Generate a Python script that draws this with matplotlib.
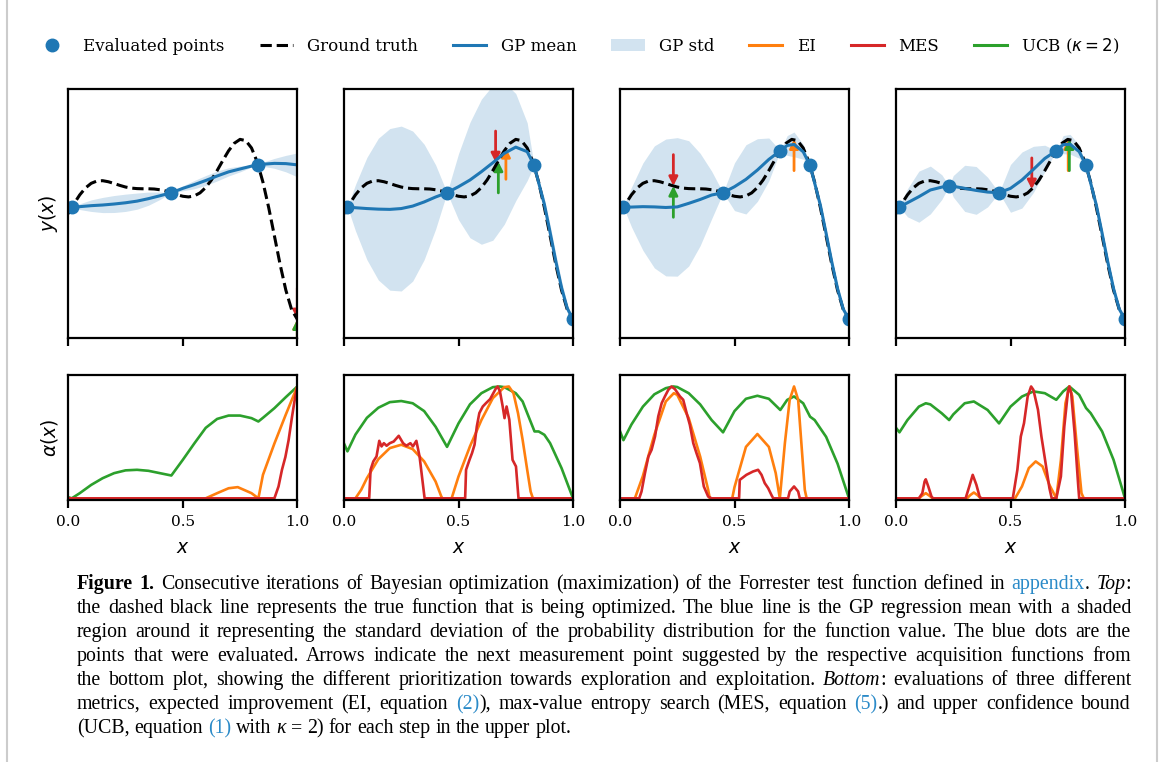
import numpy as np
import matplotlib.pyplot as plt
from matplotlib.lines import Line2D
from matplotlib.patches import Patch, FancyArrowPatch

plt.rcParams['font.family'] = 'DejaVu Serif'
plt.rcParams['mathtext.fontset'] = 'dejavusans'

# ground truth (negated Forrester function), sampled every 0.025
truth_x = np.linspace(0, 1, 41)
truth_y = [-3.03, -1.81, -0.74, 0.10, 0.66, 0.94, 0.98, 0.85, 0.64, 0.41, 0.21,
           0.08, 0.02, 0.00, -0.00, -0.03, -0.12, -0.27, -0.48, -0.72, -0.91,
           -0.99, -0.87, -0.50, 0.15, 1.07, 2.21, 3.44, 4.61, 5.52, 5.99,
           5.84, 4.95, 3.25, 0.80, -2.27, -5.71, -9.19, -12.30, -14.65, -15.83]

# evaluated points per iteration
pts_x = [[0.015, 0.45, 0.83],
         [0.015, 0.45, 0.83, 1.0],
         [0.015, 0.45, 0.70, 0.83, 1.0],
         [0.015, 0.232, 0.45, 0.70, 0.83, 1.0]]
pts_y = [[-2.2, -0.48, 2.85],
         [-2.2, -0.48, 2.85, -15.83],
         [-2.2, -0.48, 4.61, 2.85, -15.83],
         [-2.2, 0.35, -0.48, 4.61, 2.85, -15.83]]

# GP posterior mean / std per iteration
gp_x = [[0, 0.015, 0.05, 0.1, 0.15, 0.2, 0.25, 0.3, 0.35, 0.4, 0.45, 0.5, 0.55,
         0.6, 0.65, 0.7, 0.75, 0.8, 0.83, 0.85, 0.9, 0.95, 1.0],
        [0, 0.015, 0.05, 0.1, 0.15, 0.2, 0.25, 0.3, 0.35, 0.4, 0.45, 0.5, 0.55,
         0.6, 0.65, 0.7, 0.75, 0.8, 0.83, 0.875, 0.9, 0.925, 0.95, 0.975, 1.0],
        [0, 0.015, 0.05, 0.1, 0.15, 0.2, 0.25, 0.3, 0.35, 0.4, 0.45, 0.5, 0.55,
         0.6, 0.65, 0.7, 0.73, 0.76, 0.8, 0.83, 0.875, 0.9, 0.925, 0.95, 0.975, 1.0],
        [0, 0.015, 0.05, 0.1, 0.15, 0.2, 0.232, 0.25, 0.3, 0.35, 0.4, 0.45, 0.5,
         0.55, 0.6, 0.65, 0.7, 0.73, 0.76, 0.8, 0.83, 0.875, 0.9, 0.925, 0.95, 0.975, 1.0]]
gp_mean = [[-2.25, -2.2, -2.17, -2.05, -1.97, -1.85, -1.7, -1.5, -1.2, -0.85, -0.48,
            0.05, 0.5, 1.0, 1.55, 2.05, 2.4, 2.75, 2.85, 2.98, 3.08, 3.05, 2.9],
           [-2.25, -2.2, -2.3, -2.4, -2.47, -2.5, -2.4, -2.1, -1.6, -1.0, -0.48, 0.25,
            1.06, 2.07, 3.16, 4.3, 5.05, 4.5, 2.85, -1.9, -5.3, -8.8, -12.0, -14.5, -15.83],
           [-2.2, -2.2, -2.22, -2.17, -2.2, -2.27, -2.2, -1.77, -1.3, -0.76, -0.48, 0.25,
            1.14, 2.27, 3.56, 4.61, 5.25, 5.38, 4.49, 2.85, -2.0, -5.4, -8.9, -12.1, -14.6, -15.83],
           [-2.2, -2.2, -1.7, -0.96, -0.15, 0.2, 0.35, 0.3, 0.05, -0.2, -0.4, -0.48, 0.05,
            1.06, 2.35, 3.68, 4.61, 5.35, 5.4, 4.5, 2.85, -2.0, -5.4, -8.9, -12.1, -14.6, -15.83]]
gp_std = [[0.15, 0.0, 0.35, 0.7, 0.92, 1.03, 1.05, 0.98, 0.8, 0.45, 0.0, 0.3, 0.5,
           0.6, 0.6, 0.5, 0.35, 0.12, 0.0, 0.25, 0.6, 1.0, 1.45],
          [0.15, 0.0, 2.8, 6.2, 8.6, 9.8, 10.0, 9.1, 7.0, 3.9, 0.0, 4.0, 7.0, 8.8,
           9.4, 8.6, 6.5, 3.5, 0.0, 0.7, 0.9, 0.9, 0.8, 0.5, 0.0],
          [0.15, 0.0, 2.4, 5.3, 7.4, 8.3, 8.4, 7.6, 5.6, 2.9, 0.0, 2.9, 4.2, 3.8,
           2.6, 0.0, 1.2, 1.5, 0.9, 0.0, 0.4, 0.5, 0.5, 0.4, 0.3, 0.0],
          [0.1, 0.0, 1.7, 3.1, 2.9, 1.5, 0.0, 1.3, 2.8, 2.9, 1.8, 0.0, 2.9, 3.4,
           2.8, 1.6, 0.0, 1.1, 1.2, 0.8, 0.0, 0.4, 0.5, 0.5, 0.4, 0.3, 0.0]]

# next point proposed by each acquisition: (x, y at tip)
next_ei = [(1.0, -15.83), (0.707, 4.95), (0.76, 6.0), (0.752, 6.0)]
next_mes = [(1.0, -15.83), (0.662, 3.2), (0.233, 0.34), (0.593, -0.06)]
next_ucb = [(1.0, -15.83), (0.674, 3.3), (0.233, 0.34), (0.757, 6.0)]

# acquisition functions (normalised)
ei_x = [[0.0, 0.6, 0.65, 0.7, 0.74, 0.8, 0.83, 0.85, 0.9, 0.95, 1.0],
        [0.0, 0.05, 0.075, 0.1, 0.15, 0.2, 0.25, 0.3, 0.35, 0.4, 0.425, 0.43, 0.47, 0.5,
         0.55, 0.6, 0.65, 0.7, 0.72, 0.74, 0.76, 0.78, 0.8, 0.815, 0.825, 1.0],
        [0.0, 0.065, 0.1, 0.131, 0.15, 0.2, 0.235, 0.25, 0.3, 0.35, 0.385, 0.392, 0.49,
         0.5, 0.55, 0.6, 0.65, 0.68, 0.698, 0.72, 0.741, 0.76, 0.778, 0.792, 0.807, 0.815, 1.0],
        [0.0, 0.1, 0.115, 0.13, 0.145, 0.16, 0.31, 0.325, 0.34, 0.355, 0.37, 0.52, 0.55,
         0.58, 0.61, 0.64, 0.67, 0.7, 0.72, 0.74, 0.757, 0.77, 0.79, 0.81, 0.82, 1.0]]
ei_y = [[0.0, 0.0, 0.046, 0.09, 0.1, 0.046, 0.0, 0.21, 0.49, 0.75, 1.0],
        [0.0, 0.0, 0.076, 0.18, 0.35, 0.449, 0.479, 0.44, 0.33, 0.15, 0.016, 0.0, 0.0, 0.195,
         0.464, 0.70, 0.896, 0.994, 1.0, 0.94, 0.76, 0.523, 0.255, 0.06, 0.0, 0.0],
        [0.0, 0.0, 0.2, 0.43, 0.568, 0.866, 0.94, 0.925, 0.717, 0.374, 0.076, 0.0, 0.0,
         0.1, 0.46, 0.575, 0.46, 0.225, 0.0, 0.493, 0.881, 1.0, 0.881, 0.493, 0.076, 0.0, 0.0],
        [0.0, 0.0, 0.025, 0.046, 0.025, 0.0, 0.0, 0.03, 0.052, 0.03, 0.0, 0.0, 0.106,
         0.27, 0.33, 0.285, 0.12, 0.0, 0.34, 0.85, 1.0, 0.91, 0.46, 0.046, 0.0, 0.0]]

mes_x = [[0.0, 0.9, 0.918, 0.933, 0.948, 0.962, 0.977, 0.991, 1.0],
         [0.0, 0.11, 0.116, 0.128, 0.142, 0.154, 0.164, 0.174, 0.186, 0.2, 0.217, 0.239,
          0.258, 0.272, 0.29, 0.301, 0.316, 0.33, 0.352, 0.529, 0.533, 0.548, 0.559, 0.57,
          0.58, 0.591, 0.606, 0.62, 0.638, 0.652, 0.664, 0.671, 0.681, 0.693, 0.701, 0.71,
          0.722, 0.736, 0.751, 0.762, 1.0],
         [0.0, 0.084, 0.094, 0.109, 0.124, 0.138, 0.153, 0.167, 0.182, 0.196, 0.211, 0.225,
          0.24, 0.262, 0.276, 0.291, 0.305, 0.32, 0.334, 0.349, 0.366, 0.385, 0.4, 0.52,
          0.523, 0.552, 0.581, 0.603, 0.618, 0.632, 0.647, 0.661, 0.669, 0.734, 0.741,
          0.76, 0.778, 0.785, 1.0],
         [0.0, 0.1, 0.115, 0.125, 0.13, 0.141, 0.155, 0.162, 0.304, 0.32, 0.335, 0.351,
          0.365, 0.372, 0.51, 0.53, 0.545, 0.559, 0.575, 0.59, 0.6, 0.62, 0.635, 0.651,
          0.67, 0.68, 0.7, 0.72, 0.735, 0.751, 0.757, 0.765, 0.78, 0.796, 0.8, 1.0]]
mes_y = [[0.0, 0.0, 0.106, 0.255, 0.37, 0.52, 0.73, 0.91, 1.0],
         [0.0, 0.0, 0.255, 0.33, 0.374, 0.514, 0.464, 0.493, 0.47, 0.493, 0.508, 0.559,
          0.493, 0.47, 0.493, 0.464, 0.514, 0.374, 0.0, 0.0, 0.255, 0.344, 0.404, 0.479,
          0.643, 0.762, 0.821, 0.851, 0.887, 0.94, 0.985, 1.0, 0.956, 0.821, 0.717, 0.821,
          0.702, 0.344, 0.285, 0.0, 0.0],
         [0.0, 0.0, 0.061, 0.225, 0.374, 0.434, 0.553, 0.732, 0.851, 0.911, 0.97, 1.0,
          0.976, 0.911, 0.881, 0.762, 0.657, 0.493, 0.404, 0.315, 0.106, 0.016, 0.0, 0.0,
          0.165, 0.21, 0.24, 0.255, 0.21, 0.136, 0.091, 0.031, 0.0, 0.0, 0.061,
          0.106, 0.061, 0.0, 0.0],
         [0.0, 0.0, 0.046, 0.151, 0.17, 0.106, 0.016, 0.0, 0.0, 0.106, 0.21, 0.121,
          0.016, 0.0, 0.0, 0.255, 0.553, 0.672, 0.911, 1.0, 0.97, 0.792, 0.553, 0.344,
          0.091, 0.0, 0.0, 0.195, 0.643, 0.956, 1.0, 0.94, 0.583, 0.106, 0.0, 0.0]]

ucb_x = [[0.0, 0.015, 0.05, 0.1, 0.15, 0.2, 0.25, 0.3, 0.35, 0.4, 0.45, 0.5, 0.55, 0.6,
          0.65, 0.7, 0.75, 0.8, 0.83, 0.85, 0.9, 0.95, 1.0],
         [0.0, 0.015, 0.05, 0.1, 0.15, 0.2, 0.25, 0.3, 0.35, 0.4, 0.45, 0.5, 0.55, 0.6,
          0.65, 0.68, 0.7, 0.75, 0.78, 0.8, 0.832, 0.85, 0.875, 0.9, 0.95, 1.0],
         [0.0, 0.015, 0.05, 0.1, 0.15, 0.2, 0.233, 0.25, 0.3, 0.35, 0.4, 0.45, 0.5, 0.55,
          0.6, 0.65, 0.7, 0.73, 0.76, 0.8, 0.83, 0.85, 0.9, 0.95, 1.0],
         [0.0, 0.015, 0.05, 0.1, 0.13, 0.15, 0.2, 0.232, 0.25, 0.3, 0.34, 0.4, 0.45, 0.5,
          0.55, 0.6, 0.65, 0.7, 0.73, 0.757, 0.8, 0.83, 0.85, 0.9, 0.95, 1.0]]
ucb_y = [[0.01, 0.0, 0.046, 0.12, 0.18, 0.225, 0.25, 0.255, 0.246, 0.225, 0.204, 0.344,
          0.49, 0.63, 0.71, 0.74, 0.74, 0.717, 0.687, 0.72, 0.806, 0.905, 1.0],
         [0.49, 0.42, 0.57, 0.72, 0.81, 0.86, 0.87, 0.85, 0.78, 0.64, 0.46, 0.67, 0.84,
          0.94, 0.994, 1.0, 0.994, 0.94, 0.866, 0.762, 0.598, 0.598, 0.568, 0.493, 0.27, 0.0],
         [0.6, 0.52, 0.66, 0.82, 0.93, 0.985, 1.0, 0.995, 0.94, 0.84, 0.7, 0.59, 0.78,
          0.89, 0.917, 0.89, 0.79, 0.88, 0.911, 0.85, 0.73, 0.70, 0.55, 0.31, 0.0],
         [0.63, 0.59, 0.70, 0.82, 0.85, 0.84, 0.76, 0.70, 0.75, 0.85, 0.866, 0.79, 0.67,
          0.82, 0.91, 0.956, 0.94, 0.881, 0.956, 1.0, 0.925, 0.807, 0.762, 0.598, 0.344, 0.0]]

c_gp = '#1f77b4'
c_ei, c_mes, c_ucb = '#ff7f0e', '#d62728', '#2ca02c'

W, H = 1165, 762
fig = plt.figure(figsize=(W / 100, H / 100), dpi=100)

col_left = [68.3, 344, 620, 896]
col_w = 229
top_axes, bot_axes = [], []
for k in range(4):
    ax = fig.add_axes([col_left[k] / W, 1 - 338 / H, col_w / W, 249 / H])
    ax2 = fig.add_axes([col_left[k] / W, 1 - 500 / H, col_w / W, 124.7 / H])
    top_axes.append(ax)
    bot_axes.append(ax2)

    ax.fill_between(gp_x[k], np.array(gp_mean[k]) - np.array(gp_std[k]),
                    np.array(gp_mean[k]) + np.array(gp_std[k]),
                    color=c_gp, alpha=0.2, lw=0)
    ax.plot(truth_x, truth_y, 'k--', lw=2.2)
    ax.plot(gp_x[k], gp_mean[k], color=c_gp, lw=2.2)
    ax.plot(pts_x[k], pts_y[k], 'o', color=c_gp, ms=9)

    for (xa, ya), col, sgn in [(next_ei[k], c_ei, -1), (next_mes[k], c_mes, 1),
                               (next_ucb[k], c_ucb, -1)]:
        arr = FancyArrowPatch((xa, ya + sgn * 3.8), (xa, ya), arrowstyle='-|>',
                              mutation_scale=13, lw=2, color=col,
                              shrinkA=0, shrinkB=0)
        ax.add_patch(arr)

    ax.set_xlim(0, 1)
    ax.set_ylim(-18.1, 12.1)

    ax2.plot(ucb_x[k], ucb_y[k], color=c_ucb, lw=1.9)
    ax2.plot(ei_x[k], ei_y[k], color=c_ei, lw=1.9)
    ax2.plot(mes_x[k], mes_y[k], color=c_mes, lw=1.9)
    ax2.set_xlim(0, 1)
    ax2.set_ylim(-0.015, 1.1)

    for a in (ax, ax2):
        a.set_xticks([0, 0.5, 1])
        a.set_yticks([])
        a.tick_params(axis='x', length=5.5, width=1.6, labelsize=11, pad=5.5)
        for s in a.spines.values():
            s.set_linewidth(1.6)
    ax.set_xticklabels([])
    ax2.set_xticklabels(['0.0', '0.5', '1.0'])
    ax2.set_xlabel('$x$', fontsize=13.5, labelpad=7)

top_axes[0].set_ylabel('$y(x)$', fontsize=13.5, labelpad=6)
bot_axes[0].set_ylabel(r'$\alpha(x)$', fontsize=13.5, labelpad=6)

handles = [Line2D([], [], marker='o', ls='none', color=c_gp, ms=9),
           Line2D([], [], color='k', ls='--', lw=2.2),
           Line2D([], [], color=c_gp, lw=2.2),
           Patch(facecolor=c_gp, alpha=0.2, lw=0),
           Line2D([], [], color=c_ei, lw=2.2),
           Line2D([], [], color=c_mes, lw=2.2),
           Line2D([], [], color=c_ucb, lw=2.2)]
labels = ['Evaluated points', 'Ground truth', 'GP mean', 'GP std', 'EI', 'MES',
          r'UCB ($\kappa = 2$)']
fig.legend(handles, labels, loc='center', bbox_to_anchor=(0.496, 1 - 46 / H),
           ncol=7, frameon=False, fontsize=12, handlelength=2.0,
           handletextpad=0.85, columnspacing=2.1)

# page borders
for xb in (7, 1157):
    fig.add_artist(Line2D([xb / W, xb / W], [0, 1], color='#cccccc', lw=1.5,
                          transform=fig.transFigure))

# caption, justified line by line
link = '#2a8ac8'
cap_font = 'Liberation Serif'
cap_size = 14.3
cap_left, cap_right = 77, 1131
styles = {'n': {}, 'b': {'weight': 'bold'}, 'i': {'style': 'italic'},
          'l': {'color': link}}
caption = [
    ([('Figure 1.', 'b'), (' Consecutive iterations of Bayesian optimization (maximization) '
      'of the Forrester test function defined in ', 'n'), ('appendix', 'l'), ('. ', 'n'),
      ('Top', 'i'), (':', 'n')], True),
    ([('the dashed black line represents the true function that is being optimized. The blue '
       'line is the GP regression mean with a shaded', 'n')], True),
    ([('region around it representing the standard deviation of the probability distribution '
       'for the function value. The blue dots are the', 'n')], True),
    ([('points that were evaluated. Arrows indicate the next measurement point suggested by '
       'the respective acquisition functions from', 'n')], True),
    ([('the bottom plot, showing the different prioritization towards exploration and '
       'exploitation. ', 'n'), ('Bottom', 'i'), (': evaluations of three different', 'n')], True),
    ([('metrics, expected improvement (EI, equation ', 'n'), ('(2)', 'l'),
      ('), max-value entropy search (MES, equation ', 'n'), ('(5)', 'l'),
      ('.) and upper confidence bound', 'n')], True),
    ([('(UCB, equation ', 'n'), ('(1)', 'l'), (' with ', 'n'), ('κ', 'i'),
      (' = 2) for each step in the upper plot.', 'n')], False),
]
cap_base = [589 + 24 * i for i in range(len(caption))]

renderer = fig.canvas.get_renderer()
space_px = 0.25 * cap_size * 100 / 72
for (pieces, justify), yb in zip(caption, cap_base):
    words = [[]]
    for txt, kind in pieces:
        for j, part in enumerate(txt.split(' ')):
            if j > 0:
                words.append([])
            if part:
                words[-1].append((part, kind))
    words = [w for w in words if w]
    placed = []
    for w in words:
        items = []
        for part, kind in w:
            t = fig.text(0, 1 - yb / H, part, fontsize=cap_size, family=cap_font,
                         va='baseline', ha='left', **styles[kind])
            items.append((t, t.get_window_extent(renderer).width))
        placed.append(items)
    total = sum(v for items in placed for _, v in items)
    gap = (cap_right - cap_left - total) / (len(placed) - 1) if justify else space_px
    x = cap_left
    for items in placed:
        for t, v in items:
            t.set_x(x / W)
            x += v
        x += gap

fig.savefig('out.png', dpi=100)
